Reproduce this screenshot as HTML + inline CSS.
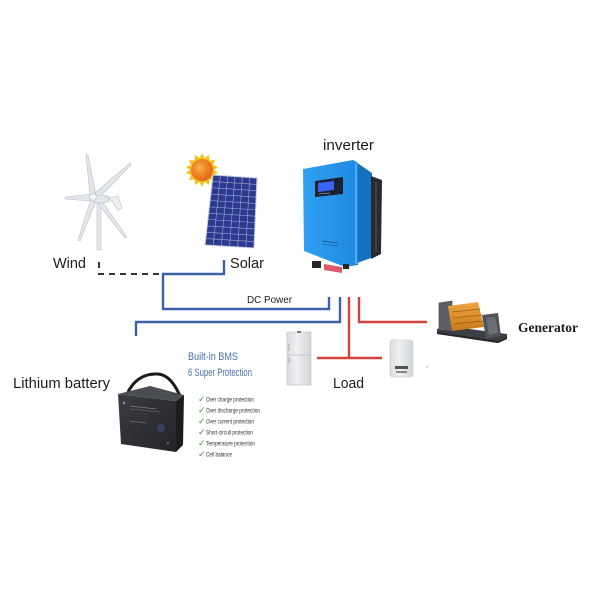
<!DOCTYPE html>
<html>
<head>
<meta charset="utf-8">
<style>
  html, body { margin:0; padding:0; background:#ffffff; }
  svg { display:block; }
  .sans { font-family: "Liberation Sans", "DejaVu Sans", sans-serif; }
</style>
</head>
<body>
<svg width="600" height="600" viewBox="0 0 600 600" xmlns="http://www.w3.org/2000/svg">
  <defs>
    <radialGradient id="sun" cx="0.4" cy="0.4" r="0.7">
      <stop offset="0" stop-color="#f6b04a"/>
      <stop offset="0.6" stop-color="#ec7a22"/>
      <stop offset="1" stop-color="#d85a18"/>
    </radialGradient>
    <linearGradient id="invFront" x1="0" y1="0" x2="1" y2="0">
      <stop offset="0" stop-color="#30a0f2"/>
      <stop offset="1" stop-color="#1e8ae0"/>
    </linearGradient>
    <linearGradient id="batFront" x1="0" y1="0" x2="1" y2="1">
      <stop offset="0" stop-color="#3a3d42"/>
      <stop offset="1" stop-color="#222428"/>
    </linearGradient>
    <linearGradient id="fridge" x1="0" y1="0" x2="1" y2="0">
      <stop offset="0" stop-color="#d9dcdf"/>
      <stop offset="0.4" stop-color="#eef0f1"/>
      <stop offset="1" stop-color="#d2d5d8"/>
    </linearGradient>
    <linearGradient id="eng" x1="0" y1="0" x2="0" y2="1">
      <stop offset="0" stop-color="#eda640"/>
      <stop offset="1" stop-color="#c9781c"/>
    </linearGradient>
  </defs>

  <!-- ===== Wind turbine ===== -->
  <g fill="#e2e6ea" stroke="#b9bfc5" stroke-width="0.6">
    <rect x="97" y="203" width="4" height="47" fill="#e6e9ec"/>
    <polygon points="90,195 86,155 88,155 96,195"/>
    <polygon points="95,193 130,163 131,165 98,199"/>
    <polygon points="92,194 65,197 65,199 92,201"/>
    <polygon points="91,199 78,240 80,241 96,201"/>
    <polygon points="95,200 125,238 127,237 99,197"/>
    <ellipse cx="101" cy="199" rx="9" ry="4"/>
    <polygon points="108,198 118,196 122,208 118,210 112,201" fill="#eef0f2"/>
    <circle cx="93" cy="197" r="3.5" fill="#f0f2f4"/>
  </g>

  <!-- ===== Sun ===== -->
  <g>
    <polygon fill="#f4c21c" points="202,153 204.5,158 209,155 209.5,160.5 215,160 213,165 218,167 214,170 218,173 213,175 215,180 209.5,179.5 209,185 204.5,182 202,187 199.5,182 195,185 194.5,179.5 189,180 191,175 186,173 190,170 186,167 191,165 189,160 194.5,160.5 195,155 199.5,158"/>
    <circle cx="202" cy="170" r="11" fill="url(#sun)"/>
  </g>

  <!-- ===== Solar panel ===== -->
  <polygon points="213,175 257,178 254,248 205,245" fill="#2c3a8e" stroke="#c9cde0" stroke-width="1"/>
  <g stroke="#b9c2ee" stroke-width="0.6" opacity="0.8">
    <line x1="220.3" y1="175.5" x2="213.2" y2="245.5"/>
    <line x1="227.7" y1="176" x2="221.3" y2="246"/>
    <line x1="235" y1="176.5" x2="229.5" y2="246.5"/>
    <line x1="242.3" y1="177" x2="237.7" y2="247"/>
    <line x1="249.7" y1="177.5" x2="245.8" y2="247.5"/>
    <line x1="212.3" y1="181.4" x2="256.7" y2="184.4"/>
    <line x1="211.5" y1="187.7" x2="256.5" y2="190.7"/>
    <line x1="210.8" y1="194.1" x2="256.2" y2="197.1"/>
    <line x1="210.1" y1="200.5" x2="255.9" y2="203.5"/>
    <line x1="209.4" y1="206.8" x2="255.6" y2="209.8"/>
    <line x1="208.6" y1="213.2" x2="255.4" y2="216.2"/>
    <line x1="207.9" y1="219.5" x2="255.1" y2="222.5"/>
    <line x1="207.2" y1="225.9" x2="254.8" y2="228.9"/>
    <line x1="206.5" y1="232.3" x2="254.5" y2="235.3"/>
    <line x1="205.7" y1="238.6" x2="254.3" y2="241.6"/>
  </g>

  <!-- ===== Inverter ===== -->
  <g>
    <polygon points="353,160 372,173 371,258 346,267 358,264 358,163" fill="#1670c0"/>
    <polygon points="303,169 353,160 358,163 358,265 345,267 304,251" fill="url(#invFront)"/>
    <line x1="356" y1="163" x2="356" y2="264" stroke="#5cb6f6" stroke-width="1.5"/>
    <polygon points="371,176 382,180 381,254 371,259" fill="#2a2b2f"/>
    <line x1="376" y1="182" x2="376" y2="252" stroke="#55575c" stroke-width="1"/>
    <polygon points="315,181 343,177 343,194 315,197" fill="#1a2130"/>
    <polygon points="318,183 334,181 334,190 318,192" fill="#3a63f2"/>
    <line x1="319" y1="194" x2="330" y2="193" stroke="#8a93a8" stroke-width="0.8"/>
    <line x1="322" y1="241" x2="338" y2="243" stroke="#1a4f8a" stroke-width="0.8"/>
    <line x1="322" y1="244" x2="338" y2="246" stroke="#1a4f8a" stroke-width="0.6"/>
    <rect x="312" y="261" width="9" height="7" fill="#25262a"/>
    <polygon points="324,264 342,267 342,273 324,270" fill="#dc5a6e"/>
    <rect x="343" y="264" width="6" height="5" fill="#25262a"/>
  </g>

  <!-- ===== Connectors ===== -->
  <g fill="none" stroke-width="2.4" stroke-linejoin="miter">
    <polyline points="99,262 99,274 163,274" stroke="#333" stroke-dasharray="6,5" stroke-width="2"/>
    <polyline points="224,260 224,274 163,274 163,309 329,309 329,297" stroke="#3b62a6"/>
    <polyline points="340,297 340,322 136,322 136,336" stroke="#3b62a6"/>
    <polyline points="349,297 349,358" stroke="#d2433b"/>
    <line x1="317" y1="358" x2="382" y2="358" stroke="#d2433b"/>
    <polyline points="359,297 359,322 427,322" stroke="#d2433b"/>
  </g>

  <!-- ===== Fridge ===== -->
  <g>
    <rect x="287" y="332" width="24" height="53" fill="url(#fridge)" stroke="#c4c7ca" stroke-width="0.7"/>
    <line x1="287" y1="355" x2="311" y2="355" stroke="#b9bcc0" stroke-width="0.8"/>
    <rect x="297" y="331" width="4" height="2" fill="#777"/>
    <line x1="289" y1="344" x2="289" y2="351" stroke="#999" stroke-width="0.8"/>
    <line x1="289" y1="357" x2="289" y2="363" stroke="#999" stroke-width="0.8"/>
  </g>

  <!-- ===== Water heater ===== -->
  <g>
    <rect x="390" y="340" width="23" height="37" rx="3" fill="url(#fridge)" stroke="#cdd0d3" stroke-width="0.7"/>
    <rect x="395" y="366" width="13" height="3" fill="#555"/>
    <rect x="396" y="371" width="11" height="2" fill="#888"/>
  </g>
  <circle cx="427" cy="367" r="0.6" fill="#666"/>

  <!-- ===== Generator ===== -->
  <g>
    <polygon points="437,329 447,326 507,334 507,339 498,343 437,334" fill="#3b3e42"/>
    <polygon points="437,332 498,341 507,337 507,339 498,343 437,334" fill="#25272a"/>
    <polygon points="439,303 452,301 452,331 439,330" fill="#5c6065" stroke="#3a3d41" stroke-width="0.6"/>
    <polygon points="448,306 478,302 484,327 452,331" fill="url(#eng)"/>
    <line x1="452" y1="312" x2="480" y2="309" stroke="#b06a14" stroke-width="1"/>
    <line x1="453" y1="318" x2="482" y2="315" stroke="#b06a14" stroke-width="1"/>
    <line x1="454" y1="324" x2="483" y2="321" stroke="#9a5a10" stroke-width="0.8"/>
    <polygon points="482,315 498,313 501,336 486,339" fill="#50545a"/>
    <polygon points="486,318 495,317 498,333 489,335" fill="#6b7076"/>
  </g>

  <!-- ===== Battery ===== -->
  <g>
    <path d="M128,392 Q138,373 158,374 Q171,375 180,396" fill="none" stroke="#1a1b1d" stroke-width="3"/>
    <polygon points="118,394 176,401 176,452 121,444" fill="url(#batFront)"/>
    <polygon points="176,401 184,395 183,445 176,452" fill="#1b1d20"/>
    <polygon points="118,394 150,386 184,395 176,401" fill="#4a4d52"/>
    <line x1="130" y1="406" x2="156" y2="409" stroke="#7b7f86" stroke-width="0.7"/>
    <line x1="130" y1="409" x2="160" y2="412" stroke="#6a6e75" stroke-width="0.6"/>
    <line x1="130" y1="421" x2="146" y2="423" stroke="#6a6e75" stroke-width="0.8"/>
    <circle cx="161" cy="428" r="4" fill="#3a4a6a" opacity="0.8"/>
    <circle cx="124" cy="403" r="1.3" fill="#8a8e95"/>
    <circle cx="168" cy="443" r="0.9" fill="#8a8e95"/>
  </g>

  <!-- ===== Labels ===== -->
  <g fill="#1c1c1c" class="sans">
    <text x="323" y="150" font-size="15" textLength="51" lengthAdjust="spacingAndGlyphs">inverter</text>
    <text x="53" y="268" font-size="15" textLength="33" lengthAdjust="spacingAndGlyphs">Wind</text>
    <text x="230" y="268" font-size="15" textLength="34" lengthAdjust="spacingAndGlyphs">Solar</text>
    <text x="247" y="303" font-size="10.5" textLength="45" lengthAdjust="spacingAndGlyphs">DC Power</text>
    <text x="13" y="388" font-size="15" textLength="97" lengthAdjust="spacingAndGlyphs">Lithium battery</text>
    <text x="333" y="388" font-size="15" textLength="31" lengthAdjust="spacingAndGlyphs">Load</text>
  </g>
  <text x="518" y="332" font-size="13.5" fill="#1c1c1c" style="font-family:'Liberation Serif', serif; font-weight:bold;" textLength="60" lengthAdjust="spacingAndGlyphs">Generator</text>
  <g fill="#4a6ea6" class="sans">
    <text x="188" y="360" font-size="11" textLength="50" lengthAdjust="spacingAndGlyphs">Built-in BMS</text>
    <text x="188" y="376" font-size="11" textLength="64" lengthAdjust="spacingAndGlyphs">6 Super Protection</text>
  </g>
  <g fill="#3a9a3a" style="font-family:'DejaVu Sans', sans-serif; font-size:9px;">
    <text x="198" y="402">✓</text>
    <text x="198" y="413">✓</text>
    <text x="198" y="424">✓</text>
    <text x="198" y="435">✓</text>
    <text x="198" y="446">✓</text>
    <text x="198" y="457">✓</text>
  </g>
  <g font-size="6" fill="#333" class="sans">
    <text x="206" y="401.5" textLength="48" lengthAdjust="spacingAndGlyphs">Over charge protection</text>
    <text x="206" y="412.5" textLength="54" lengthAdjust="spacingAndGlyphs">Over discharge protection</text>
    <text x="206" y="423.5" textLength="48" lengthAdjust="spacingAndGlyphs">Over current protection</text>
    <text x="206" y="434.5" textLength="47" lengthAdjust="spacingAndGlyphs">Short-circuit protection</text>
    <text x="206" y="445.5" textLength="49" lengthAdjust="spacingAndGlyphs">Temperature protection</text>
    <text x="206" y="456.5" textLength="26" lengthAdjust="spacingAndGlyphs">Cell balance</text>
  </g>
</svg>
</body>
</html>
